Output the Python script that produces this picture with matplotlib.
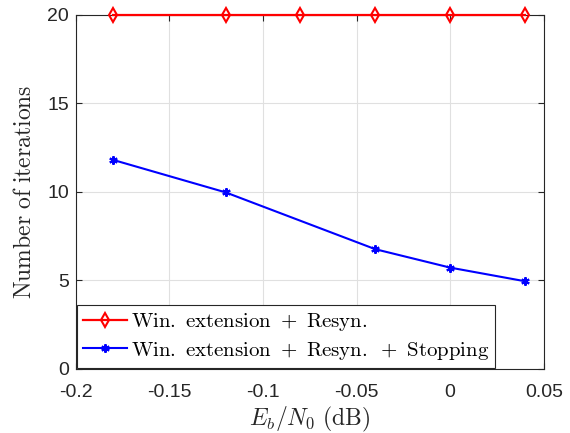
import numpy as np
import matplotlib
matplotlib.use('Agg')
import matplotlib.pyplot as plt

plt.rcParams['mathtext.fontset'] = 'cm'
plt.rcParams['font.family'] = ['Liberation Sans', 'DejaVu Sans']

# data
ebn0_resyn = [-0.18, -0.12, -0.08, -0.04, 0.0, 0.04]
iters_resyn = [20, 20, 20, 20, 20, 20]
ebn0_stop = [-0.18, -0.12, -0.04, 0.0, 0.04]
iters_stop = [11.8, 9.97, 6.76, 5.72, 4.95]

x_ticks = [-0.2, -0.15, -0.1, -0.05, 0, 0.05]
x_ticklabels = ['-0.2', '-0.15', '-0.1', '-0.05', '0', '0.05']
y_ticks = [0, 5, 10, 15, 20]

fig = plt.figure(figsize=(5.7, 4.33), dpi=100)
ax = fig.add_axes([0.133, 0.148, 0.821, 0.818])

ax.plot(ebn0_resyn, iters_resyn, color='red', lw=1.6, marker='d',
        markersize=7, markerfacecolor='none', markeredgewidth=1.5,
        label=r'$\mathrm{Win.\ extension}\ +\ \mathrm{Resyn.}$', clip_on=False, zorder=4)
ax.plot(ebn0_stop, iters_stop, color='blue', lw=1.5, marker=(6, 2, 0),
        markersize=6, markeredgewidth=1.5,
        label=r'$\mathrm{Win.\ extension}\ +\ \mathrm{Resyn.}\ +\ \mathrm{Stopping}$',
        zorder=4)

ax.set_xlim(-0.2, 0.05)
ax.set_ylim(0, 20)
ax.set_xticks(x_ticks)
ax.set_xticklabels(x_ticklabels)
ax.set_yticks(y_ticks)
ax.grid(True, color='#e0e0e0', lw=0.8)
ax.set_axisbelow(True)
for s in ax.spines.values():
    s.set_color('#262626')
    s.set_linewidth(0.8)
ax.tick_params(direction='in', top=True, right=True, length=4, width=0.8,
               colors='#262626', labelsize=14)
ax.tick_params(axis='x', pad=11)
ax.tick_params(axis='y', pad=5)

ax.set_xlabel(r'$E_b/N_0\ \mathrm{(dB)}$', fontsize=17, color='#262626', labelpad=3)
ax.set_ylabel(r'$\mathrm{Number\ of\ iterations}$', fontsize=17, color='#262626', labelpad=8)

leg = ax.legend(loc='lower left', fontsize=15, borderaxespad=0.05, fancybox=False,
                edgecolor='#262626', framealpha=1, handlelength=2.1,
                handletextpad=0.2, borderpad=0.3, labelspacing=0.3)
leg.get_frame().set_linewidth(0.8)

fig.savefig('out.png', dpi=100)
